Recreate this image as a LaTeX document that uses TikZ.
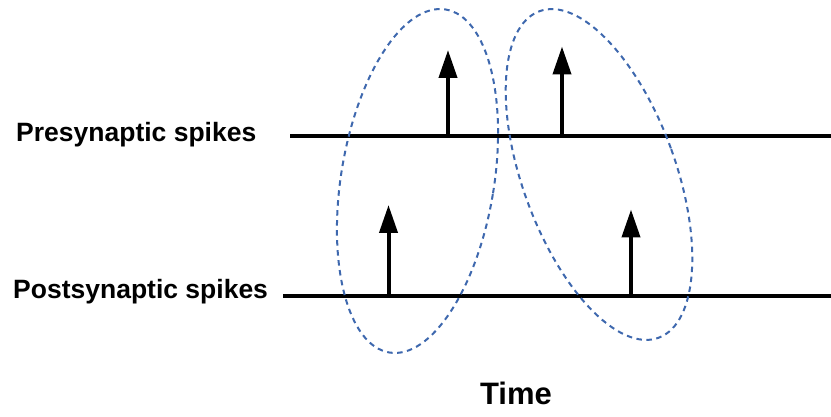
\documentclass[tikz,border=0pt]{standalone}
\usepackage{fontspec}
\setmainfont{Liberation Sans}
\usetikzlibrary{arrows.meta}
\definecolor{ovalblue}{RGB}{62,104,174}

\begin{document}
\begin{tikzpicture}[x=1pt,y=1pt,
		spikeline/.style={line width=4pt},
		spike/.style={line width=4pt,-{Triangle[length=28pt,width=18pt]}},
		oval/.style={draw=ovalblue,line width=2pt,dash pattern=on 5.5pt off 4.5pt},
		tag/.style={font=\fontsize{26.5}{30}\selectfont\bfseries,inner sep=0pt,anchor=west}]
					\useasboundingbox (0,0) rectangle (831,-417);

					\coordinate (pre-a) at (290,-136.5);
					\coordinate (pre-b) at (831,-136.5);
					\coordinate (post-a) at (283,-295.5);
					\coordinate (post-b) at (831,-295.5);

					\coordinate (1) at (448,-136.5);
					\coordinate (2) at (562,-136.5);
					\coordinate (3) at (388.5,-295.5);
					\coordinate (4) at (631,-295.5);
					\coordinate (1t) at (448,-50);
					\coordinate (2t) at (562,-46.5);
					\coordinate (3t) at (388.5,-205);
					\coordinate (4t) at (631,-209.5);

					\node[tag] (pre) at (16,-134.5) {Presynaptic spikes};
					\node[tag] (post) at (13,-291.5) {Postsynaptic spikes};
					\node[font=\fontsize{31}{35}\selectfont\bfseries,inner sep=0pt] (time) at (516,-393) {Time};

					\draw[spikeline] (pre-a) -- (pre-b);
					\draw[spikeline] (post-a) -- (post-b);

					\foreach \i in {1, ..., 4}{
							\draw[spike] (\i) -- (\i t);
						}

					% pairing ovals
					\draw[oval] (417.5,-181) ellipse[x radius=76.5, y radius=173.8, rotate=-9.3];
					\draw[oval] (599,-174.5) ellipse[x radius=76.5, y radius=173.8, rotate=20];
				\end{tikzpicture}
\end{document}
